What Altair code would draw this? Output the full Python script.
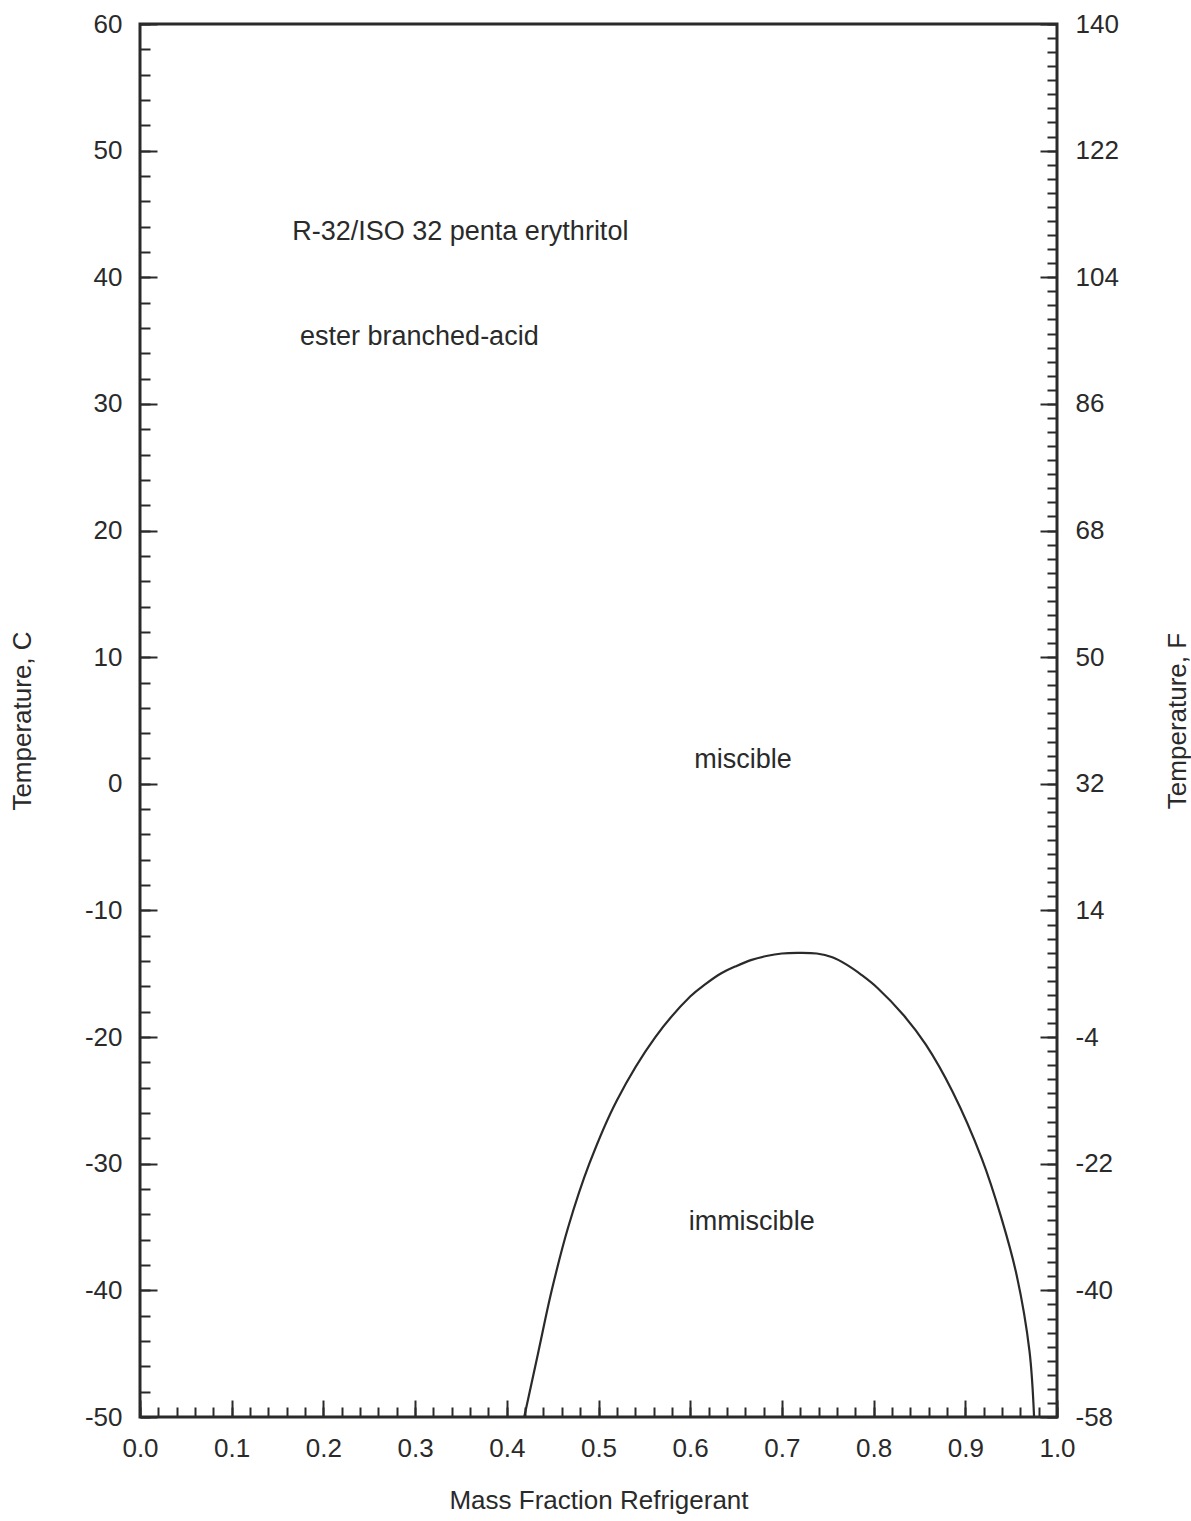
import altair as alt
import pandas as pd

# ---- data ----
mass_fraction = [0.419, 0.434, 0.449, 0.467, 0.490, 0.520, 0.562, 0.600, 0.617, 0.633,
                 0.650, 0.667, 0.683, 0.700, 0.717, 0.738, 0.755, 0.771, 0.787, 0.804,
                 0.833, 0.857, 0.886, 0.918, 0.939, 0.956, 0.970, 0.975]
temp_c = [-50.0, -45.0, -40.0, -35.0, -30.0, -25.0, -20.0, -16.8, -15.8, -15.0,
          -14.4, -13.9, -13.6, -13.4, -13.35, -13.4, -13.7, -14.3, -15.1, -16.1,
          -18.3, -20.6, -24.3, -29.6, -34.2, -38.8, -44.8, -50.0]

left_labels = ["R-32/ISO 32 penta erythritol", "ester branched-acid"]
left_label_x = [0.166, 0.1745]
left_label_t = [43.6, 35.3]

center_labels = ["miscible", "immiscible"]
center_label_x = [0.6576, 0.667]
center_label_t = [1.9, -34.6]

x_major_ticks = [0.0, 0.1, 0.2, 0.3, 0.4, 0.5, 0.6, 0.7, 0.8, 0.9, 1.0]
x_minor_ticks = [round(i * 0.02, 2) for i in range(51)]
c_major_ticks = [-50, -40, -30, -20, -10, 0, 10, 20, 30, 40, 50, 60]
c_minor_ticks = list(range(-50, 61, 2))
f_major_ticks = [-58, -40, -22, -4, 14, 32, 50, 68, 86, 104, 122, 140]
f_minor_ticks = list(range(-58, 141, 2))

W, H = 917, 1393
FONT = "Liberation Sans"
INK = "#2a2a2a"
FS = 26
MAJOR, MINOR = 17, 10

curve = pd.DataFrame({"x": mass_fraction, "t": temp_c})
fdf = pd.DataFrame({"f": f_major_ticks})
left_df = pd.DataFrame({"x": left_label_x, "t": left_label_t, "label": left_labels})
center_df = pd.DataFrame({"x": center_label_x, "t": center_label_t, "label": center_labels})

xs = alt.Scale(domain=[0, 1], nice=False, zero=False)
ycs = alt.Scale(domain=[-50, 60], nice=False, zero=False)
yfs = alt.Scale(domain=[-58, 140], nice=False, zero=False)


def axis(orient, values, size, **extra):
    kw = dict(orient=orient, values=values, tickSize=size, offset=-size,
              domain=False, grid=False, ticks=True, tickColor=INK, tickWidth=2,
              labelFont=FONT, labelFontSize=FS, labelColor=INK, labelPadding=18,
              labelFlush=False, labelOverlap=False,
              titleFont=FONT, titleFontSize=FS, titleFontWeight="normal", titleColor=INK)
    kw.update(extra)
    return alt.Axis(**kw)


line = alt.Chart(curve).mark_line(color=INK, strokeWidth=2.2, interpolate="catmull-rom").encode(
    x=alt.X("x:Q", scale=xs,
            axis=axis("bottom", x_major_ticks, MAJOR, format=".1f",
                      title="Mass Fraction Refrigerant", titlePadding=26)),
    y=alt.Y("t:Q", scale=ycs,
            axis=axis("left", c_major_ticks, MAJOR, labelExpr="'' + datum.value",
                      title="Temperature, C", titlePadding=49)),
)

minor = alt.Chart(curve).mark_line(opacity=0).encode(
    x=alt.X("x:Q", scale=xs, axis=axis("bottom", x_minor_ticks, MINOR, labels=False, title="")),
    y=alt.Y("t:Q", scale=ycs, axis=axis("left", c_minor_ticks, MINOR, labels=False, title="")),
)

right_major = alt.Chart(fdf).mark_point(opacity=0).encode(
    y=alt.Y("f:Q", scale=yfs,
            axis=axis("right", f_major_ticks, MAJOR, labelExpr="'' + datum.value",
                      title="Temperature, F", titleAngle=270, titleBaseline="bottom",
                      titlePadding=72)),
)

right_minor = alt.Chart(fdf).mark_point(opacity=0).encode(
    y=alt.Y("f:Q", scale=yfs, axis=axis("right", f_minor_ticks, MINOR, labels=False, title="")),
)

text_left = alt.Chart(left_df).mark_text(font=FONT, fontSize=27, color=INK, align="left").encode(
    x=alt.X("x:Q", scale=xs, axis=None),
    y=alt.Y("t:Q", scale=ycs, axis=None),
    text="label:N",
)

text_center = alt.Chart(center_df).mark_text(font=FONT, fontSize=27, color=INK, align="center").encode(
    x=alt.X("x:Q", scale=xs, axis=None),
    y=alt.Y("t:Q", scale=ycs, axis=None),
    text="label:N",
)

chart = alt.layer(line, minor, right_major, right_minor, text_left, text_center).resolve_scale(
    y="independent"
).resolve_axis(
    x="independent", y="independent"
).properties(
    width=W, height=H,
    padding={"left": 140, "top": 24, "right": 134, "bottom": 104},
    autosize=alt.AutoSizeParams(type="none"),
    background="white",
).configure_view(stroke=INK, strokeWidth=3)

chart.save("out.html", embed_options={"renderer": "svg", "actions": False})
